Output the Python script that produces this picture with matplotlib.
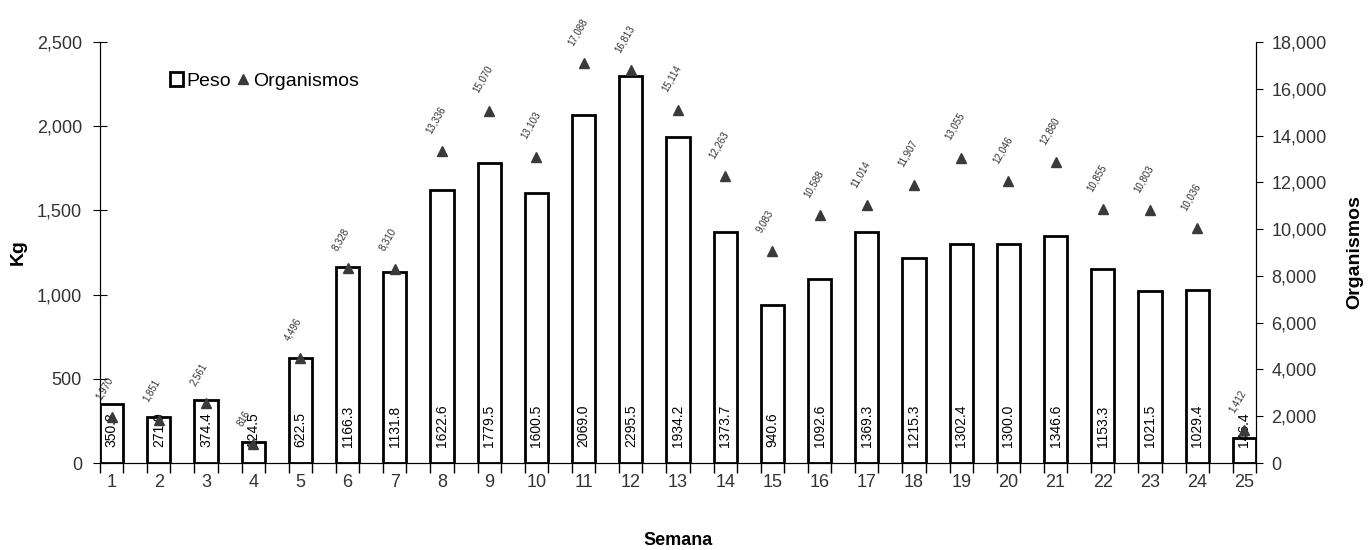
import numpy as np
import matplotlib
matplotlib.use("Agg")
import matplotlib.pyplot as plt
from matplotlib.ticker import FuncFormatter, MultipleLocator
from matplotlib.lines import Line2D
from matplotlib.patches import Patch

plt.rcParams['font.family'] = ['Liberation Sans', 'DejaVu Sans']

semanas = list(range(1, 26))
peso = [350.8, 271.0, 374.4, 124.5, 622.5, 1166.3, 1131.8, 1622.6, 1779.5, 1600.5,
        2069.0, 2295.5, 1934.2, 1373.7, 940.6, 1092.6, 1369.3, 1215.3, 1302.4, 1300.0,
        1346.6, 1153.3, 1021.5, 1029.4, 146.4]
organismos = [1970, 1851, 2561, 816, 4496, 8328, 8310, 13336, 15070, 13103,
              17088, 16813, 15114, 12263, 9083, 10588, 11014, 11907, 13055, 12046,
              12880, 10855, 10803, 10036, 1412]

fig = plt.figure(figsize=(13.71, 5.5), dpi=100)
ax = fig.add_axes([100/1371, 87/550, 1156/1371, 421/550])
ax2 = ax.twinx()

x = np.array(semanas)
w = 0.49
ax.bar(x, peso, width=w, facecolor='white', edgecolor='black', linewidth=2, zorder=2)
for xi, v in zip(x, peso):
    ax.text(xi, 95, f"{v:.1f}", rotation=90, ha='center', va='bottom',
            fontsize=10, color='black', zorder=3)

ax.set_xlim(0.756, 25.235)
ax.set_ylim(0, 2500)
ax.yaxis.set_major_locator(MultipleLocator(500))
ax.yaxis.set_major_formatter(FuncFormatter(lambda v, p: f"{int(v):,}"))
ax.set_xticks(x)
ax.set_xticklabels([str(s) for s in semanas], fontsize=13, color='#333333')
ax.tick_params(axis='x', which='major', length=0, pad=8)
ax.set_xticks(np.concatenate([x - w/2, x + w/2]), minor=True)
ax.tick_params(axis='x', which='minor', length=7, direction='out', width=1)
ax.tick_params(axis='y', direction='inout', length=10, labelsize=13,
               labelcolor='#333333', pad=8)
ax.set_ylabel("Kg", fontsize=14, fontweight='bold')
ax.yaxis.set_label_coords(-0.063, 0.5)
ax.set_xlabel("Semana", fontsize=13, fontweight='bold')
ax.xaxis.set_label_coords(0.5, -0.165)
ax.spines['top'].set_visible(False)
ax2.spines['top'].set_visible(False)

ax2.plot(x, organismos, linestyle='none', marker='^', markersize=7,
         color='#3a3a3a', zorder=4)
for xi, v in zip(x, organismos):
    ax2.annotate(f"{v:,}", (xi, v), xytext=(-9, 16), textcoords='offset pixels',
                 rotation=60, ha='left', va='bottom', fontsize=7,
                 color='#333333', rotation_mode='anchor')
ax2.set_ylim(0, 18000)
ax2.yaxis.set_major_locator(MultipleLocator(2000))
ax2.yaxis.set_major_formatter(FuncFormatter(lambda v, p: f"{int(v):,}"))
ax2.tick_params(axis='y', direction='out', length=5, labelsize=13,
                labelcolor='#333333', pad=6)
ax2.set_ylabel("Organismos", fontsize=14, fontweight='bold')
ax2.yaxis.set_label_coords(1.078, 0.5)

handles = [Patch(facecolor='white', edgecolor='black', linewidth=2, label='Peso'),
           Line2D([], [], linestyle='none', marker='^', markersize=7,
                  color='#3a3a3a', label='Organismos')]
ax.legend(handles=handles, loc='upper left', bbox_to_anchor=(0.045, 0.97),
          ncol=2, frameon=False, fontsize=14, handlelength=0.7,
          handletextpad=0.15, columnspacing=0.3)

fig.savefig("out.png", dpi=100)
